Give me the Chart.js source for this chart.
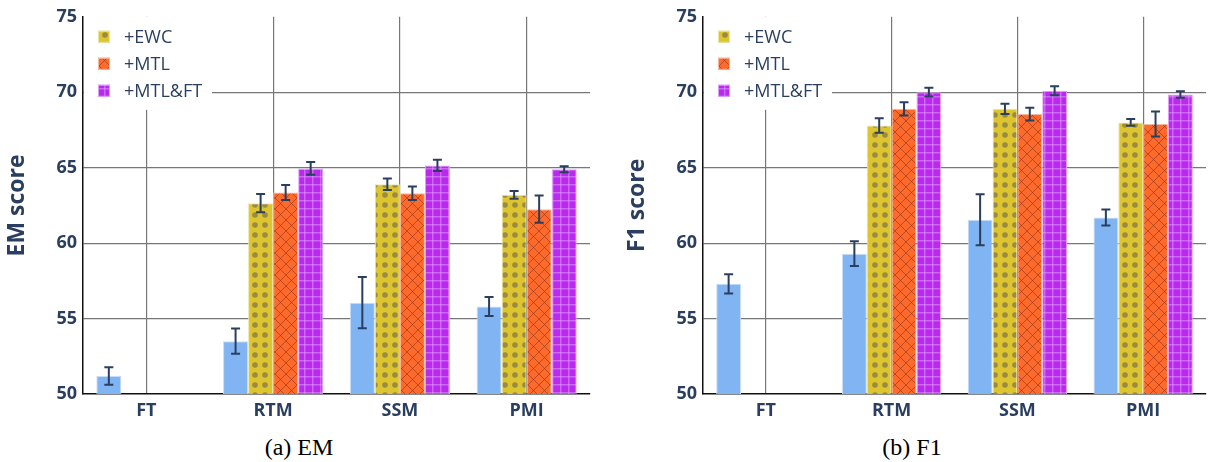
<!DOCTYPE html>
<html>
<head>
<meta charset="utf-8">
<script src="https://cdn.jsdelivr.net/npm/chart.js@4.4.1/dist/chart.umd.min.js"></script>
<style>
  body { margin: 0; background: #fff; width: 1210px; height: 462px; position: relative; overflow: hidden; }
  .box { position: absolute; top: 0; height: 430px; }
  .cap { position: absolute; top: 433px; font-family: "Liberation Serif", "Times New Roman", serif; font-size: 24px; line-height: 28px; color: #000; transform: translateX(-50%); white-space: nowrap; }
</style>
</head>
<body>
<div class="box" style="left:0;width:600px"><canvas id="emChart"></canvas></div>
<div class="box" style="left:620px;width:590px"><canvas id="f1Chart"></canvas></div>
<div class="cap" style="left:299px">(a) EM</div>
<div class="cap" style="left:912px">(b) F1</div>
<script>
// categories and series
const categories = ['FT', 'RTM', 'SSM', 'PMI'];
const seriesNames = ['FT', '+EWC', '+MTL', '+MTL&FT'];
const yTicks = [50, 55, 60, 65, 70, 75];

// EM score
const emFT    = [51.2, 53.5, 56.05, 55.8];
const emEWC   = [null, 62.65, 63.9, 63.2];
const emMTL   = [null, 63.35, 63.3, 62.25];
const emMTLFT = [null, 64.95, 65.15, 64.9];
const emFTErr    = [0.58, 0.84, 1.7, 0.63];
const emEWCErr   = [null, 0.6, 0.38, 0.26];
const emMTLErr   = [null, 0.5, 0.45, 0.9];
const emMTLFTErr = [null, 0.42, 0.37, 0.2];

// F1 score
const f1FT    = [57.3, 59.3, 61.55, 61.7];
const f1EWC   = [null, 67.8, 68.9, 68.0];
const f1MTL   = [null, 68.9, 68.55, 67.9];
const f1MTLFT = [null, 70.0, 70.1, 69.85];
const f1FTErr    = [0.64, 0.82, 1.69, 0.53];
const f1EWCErr   = [null, 0.48, 0.34, 0.22];
const f1MTLErr   = [null, 0.44, 0.42, 0.83];
const f1MTLFTErr = [null, 0.29, 0.3, 0.22];

const textColor = '#2a3f5f';
Chart.defaults.font.family = '"Open Sans", "Noto Sans", sans-serif';

// fill patterns
function makeTile(size, draw) {
    const c = document.createElement('canvas');
    c.width = size; c.height = size;
    draw(c.getContext('2d'), size);
    return c.getContext('2d').createPattern(c, 'repeat');
}
const dotFill = makeTile(10, function(g, s) {
    g.fillStyle = '#dcc530'; g.fillRect(0, 0, s, s);
    g.fillStyle = '#9a8b40';
    g.beginPath(); g.arc(5, 5, 2.8, 0, Math.PI * 2); g.fill();
});
const crossFill = makeTile(11, function(g, s) {
    g.fillStyle = '#fd6a2b'; g.fillRect(0, 0, s, s);
    g.strokeStyle = 'rgba(150,50,20,0.6)'; g.lineWidth = 1;
    g.beginPath();
    g.moveTo(0, 0); g.lineTo(s, s);
    g.moveTo(s, 0); g.lineTo(0, s);
    g.stroke();
});
const gridFill = makeTile(8, function(g, s) {
    g.fillStyle = '#b92aec'; g.fillRect(0, 0, s, s);
    g.fillStyle = 'rgba(230,160,255,0.5)';
    g.fillRect(0, 0, s, 1.5);
    g.fillRect(0, 0, 1.5, s);
});
const fills = ['#80b4f2', dotFill, crossFill, gridFill];
const edges = ['#c8def8', '#ece3a8', '#f8b89c', '#dca0f4'];

// error bars drawn on top of the bars
const errorBars = {
    id: 'errorBars',
    afterDatasetsDraw(chart) {
        const ctx = chart.ctx, y = chart.scales.y;
        ctx.save();
        ctx.strokeStyle = textColor;
        ctx.lineWidth = 2;
        chart.data.datasets.forEach(function(ds, i) {
            chart.getDatasetMeta(i).data.forEach(function(bar, j) {
                const v = ds.data[j], e = ds.errors[j];
                if (v == null || e == null) return;
                const top = y.getPixelForValue(v + e), bot = y.getPixelForValue(v - e);
                ctx.beginPath();
                ctx.moveTo(bar.x, top); ctx.lineTo(bar.x, bot);
                ctx.moveTo(bar.x - 4.5, top); ctx.lineTo(bar.x + 4.5, top);
                ctx.moveTo(bar.x - 4.5, bot); ctx.lineTo(bar.x + 4.5, bot);
                ctx.stroke();
            });
        });
        ctx.restore();
    }
};

// legend inside the plot, top left, on a white box
const innerLegend = {
    id: 'innerLegend',
    afterDraw(chart) {
        const ctx = chart.ctx, a = chart.chartArea;
        ctx.save();
        ctx.fillStyle = '#fff';
        ctx.fillRect(a.left + 1, a.top, 128, 93);
        ctx.font = '18px "Open Sans"';
        ctx.textBaseline = 'middle';
        chart.data.datasets.forEach(function(ds, i) {
            if (i === 0) return;
            const cy = a.top + 20 + (i - 1) * 27;
            ctx.fillStyle = ds.backgroundColor;
            ctx.fillRect(a.left + 15, cy - 6, 12, 12);
            ctx.strokeStyle = ds.borderColor;
            ctx.lineWidth = 1;
            ctx.strokeRect(a.left + 15.5, cy - 5.5, 11, 11);
            ctx.fillStyle = textColor;
            ctx.fillText(ds.label, a.left + 41, cy + 1);
        });
        ctx.restore();
    }
};

function makeChart(id, title, values, errors, topPad, rightPad) {
    const datasets = values.map(function(vals, i) {
        return {
            label: seriesNames[i],
            data: vals,
            errors: errors[i],
            backgroundColor: fills[i],
            borderColor: edges[i],
            borderWidth: 1
        };
    });
    return new Chart(document.getElementById(id), {
        type: 'bar',
        data: { labels: categories, datasets: datasets },
        options: {
            responsive: true,
            maintainAspectRatio: false,
            animation: false,
            layout: { padding: { top: topPad, right: rightPad, left: 0, bottom: 0 } },
            datasets: { bar: { categoryPercentage: 0.79, barPercentage: 1.0 } },
            plugins: { legend: { display: false }, tooltip: { enabled: false } },
            scales: {
                x: {
                    afterFit: function(s) { s.height = 36; },
                    grid: { offset: false, color: '#777', lineWidth: 1.2, drawTicks: false },
                    border: { display: true, color: '#111', width: 1.5 },
                    ticks: { color: textColor, padding: 6, font: { size: 18, weight: 'bold' } }
                },
                y: {
                    min: 50, max: 75,
                    afterFit: function(s) { s.width = 83; },
                    afterBuildTicks: function(s) { s.ticks = yTicks.map(function(v) { return { value: v }; }); },
                    grid: {
                        drawTicks: false,
                        lineWidth: 1.2,
                        color: function(c) { return (c.tick && (c.tick.value === 75 || c.tick.value === 50)) ? 'rgba(0,0,0,0)' : '#777'; }
                    },
                    border: { display: true, color: '#111', width: 1.5 },
                    ticks: { color: textColor, padding: 6, font: { size: 18, weight: 'bold' } },
                    title: { display: true, text: title, color: textColor, padding: { top: 4, bottom: 0 }, font: { size: 23, weight: 'bold' } }
                }
            }
        },
        plugins: [errorBars, innerLegend]
    });
}

makeChart('emChart', 'EM score',
    [emFT, emEWC, emMTL, emMTLFT],
    [emFTErr, emEWCErr, emMTLErr, emMTLFTErr], 12, 10);
makeChart('f1Chart', 'F1 score',
    [f1FT, f1EWC, f1MTL, f1MTLFT],
    [f1FTErr, f1EWCErr, f1MTLErr, f1MTLFTErr], 14, 4);
</script>
</body>
</html>
